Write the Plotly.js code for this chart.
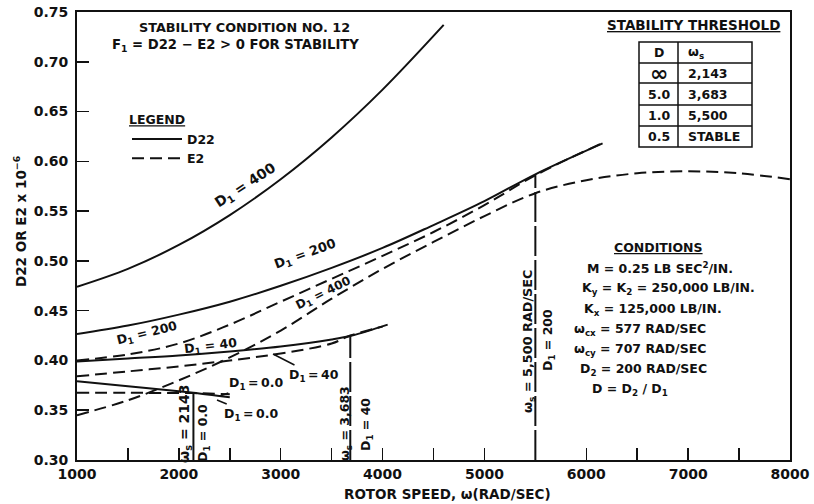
<!DOCTYPE html>
<html>
<head>
<meta charset="utf-8">
<script src="https://cdn.plot.ly/plotly-3.0.1.min.js"></script>
<style>html,body{margin:0;padding:0;background:#fff;}#chart{width:814px;height:504px;}</style>
</head>
<body>
<div id="chart"></div>
<script>
// ---- Data ----
// D22 (solid) curves
const speedD22_400 = [1000,1500,2000,2500,3000,3500,4000,4600];
const d22_400      = [0.474,0.492,0.516,0.546,0.582,0.624,0.672,0.737];
const speedD22_200 = [1000,1500,2000,2500,3000,3500,4000,4500,5000,5500,6160];
const d22_200      = [0.4265,0.435,0.446,0.459,0.475,0.493,0.513,0.536,0.560,0.587,0.618];
const speedD22_40  = [1000,1500,2000,2500,3000,3500,3700,4050];
const d22_40       = [0.399,0.402,0.405,0.409,0.414,0.421,0.425,0.436];
const speedD22_0   = [1000,1500,2000,2143,2500];
const d22_0        = [0.379,0.374,0.369,0.3675,0.363];
// E2 (dashed) curves
const speedE2_400 = [1000,1500,2000,2500,3000,3500,4000,4500,5000,5500,6000,6500,7000,7500,8000];
const e2_400      = [0.345,0.360,0.380,0.403,0.430,0.462,0.492,0.519,0.545,0.568,0.581,0.588,0.590,0.588,0.582];
const speedE2_200 = [1000,1500,2000,2500,3000,3500,4000,4500,5000,5500,6150];
const e2_200      = [0.400,0.406,0.417,0.436,0.459,0.482,0.505,0.529,0.556,0.586,0.618];
const speedE2_40  = [1000,1500,2000,2500,3000,3500,3683,4000];
const e2_40       = [0.384,0.389,0.394,0.400,0.407,0.417,0.425,0.434];
const speedE2_0   = [1000,1500,2000,2143,2500];
const e2_0        = [0.3675,0.3675,0.3672,0.3672,0.366];
// Stability thresholds
const thresholdSpeed = [2143,3683,5500];
const thresholdValue = [0.3675,0.425,0.587];
const thresholdDash  = ['solid','30px,4px','30px,4px'];
// Axis
const xRange = [1000,8000];
const yRange = [0.30,0.75];
const xTickVals = [1000,2000,3000,4000,5000,6000,7000,8000];
const yTickVals = [0.30,0.35,0.40,0.45,0.50,0.55,0.60,0.65,0.70,0.75];
// Table
const tableD  = ['∞','5.0','1.0','0.5'];
const tableWs = ['2,143','3,683','5,500','STABLE'];
const conditions = [
  'M = 0.25 LB SEC<sup>2</sup>/IN.',
  'K<sub>y</sub> = K<sub>2</sub> = 250,000 LB/IN.',
  'K<sub>x</sub> = 125,000 LB/IN.',
  'ω<sub>cx</sub> = 577 RAD/SEC',
  'ω<sub>cy</sub> = 707 RAD/SEC',
  'D<sub>2</sub> = 200 RAD/SEC',
  'D = D<sub>2</sub> / D<sub>1</sub>'
];

// ---- layout helpers (pixel -> paper) ----
const L = 77, R = 790, T = 12, B = 460;
const px = v => (v - L) / (R - L);
const py = v => (B - v) / (B - T);
const FONT = 'DejaVu Sans';
const INK = '#111';
const f = (size) => ({family:FONT, size, color:INK, weight:'bold'});
const TS = '\u2009';

const solid = (x, y, name, show) => ({x, y, type:'scatter', mode:'lines', name, showlegend: !!show,
  line:{color:INK, width:2, shape:'spline', smoothing:1}, hoverinfo:'skip'});
const dashed = (x, y, name, show) => ({x, y, type:'scatter', mode:'lines', name, showlegend: !!show,
  line:{color:INK, width:2, dash:'12px,6px', shape:'spline', smoothing:1}, hoverinfo:'skip'});

const traces = [
  solid(speedD22_400, d22_400, 'D22', true),
  dashed(speedE2_400, e2_400, 'E2', true),
  solid(speedD22_200, d22_200, 'D22'),
  solid(speedD22_40, d22_40, 'D22'),
  solid(speedD22_0, d22_0, 'D22'),
  dashed(speedE2_200, e2_200, 'E2'),
  dashed(speedE2_40, e2_40, 'E2'),
  dashed(speedE2_0, e2_0, 'E2')
];
thresholdSpeed.forEach((s, i) => {
  traces.push({x:[s, s], y:[yRange[0], thresholdValue[i]], type:'scatter', mode:'lines', showlegend:false,
    line:{color:INK, width:2, dash:thresholdDash[i]}, hoverinfo:'skip'});
});

const ann = [];
function txt(text, x, y, opts) {
  ann.push(Object.assign({text, x:px(x), y:py(y), xref:'paper', yref:'paper', showarrow:false,
    xanchor:'center', yanchor:'middle', font:f(12)}, opts || {}));
}
// axis titles
txt('ROTOR SPEED, ω(RAD/SEC)', 448, 494, {font:f(13.5)});
txt('D22 OR E2 x 10<sup>−6</sup>', 20, 221, {textangle:-90, font:f(13.5)});

txt('STABILITY CONDITION NO. 12', 244, 27, {font:f(12.8)});
txt('F<sub>1</sub> = D22 − E2 > 0 FOR STABILITY', 235, 45, {font:f(13.2)});
txt('<u>STABILITY THRESHOLD</u>', 693, 25, {font:f(13.5)});
txt('<u>CONDITIONS</u>', 658, 247, {font:f(12.5)});
const condX = [585,580,582,572,572,578,590];
const condY = [268,288,309,329,349,369,389];
conditions.forEach((c, i) => txt(c, condX[i], condY[i], {xanchor:'left', font:f(12.5)}));

// table
const tL = 639, tM = 678, tR = 752;
const rows = [42,63,83,105,126,147];
const shapes = [];
shapes.push({type:'rect', xref:'paper', yref:'paper', x0:px(tL), x1:px(tR), y0:py(rows[5]), y1:py(rows[0]), line:{color:INK, width:1.5}});
shapes.push({type:'line', xref:'paper', yref:'paper', x0:px(tM), x1:px(tM), y0:py(rows[5]), y1:py(rows[0]), line:{color:INK, width:1.5}});
for (let i = 1; i < 5; i++) shapes.push({type:'line', xref:'paper', yref:'paper', x0:px(tL), x1:px(tR), y0:py(rows[i]), y1:py(rows[i]), line:{color:INK, width:1.5}});
txt('D', (tL+tM)/2, (rows[0]+rows[1])/2, {font:f(12.5)});
txt('ω<sub>s</sub>', tM+8, (rows[0]+rows[1])/2, {xanchor:'left', font:f(12.5)});
tableD.forEach((d, i) => {
  const yc = (rows[i+1]+rows[i+2])/2;
  txt(d, (tL+tM)/2, yc, {font: d === '∞' ? f(22) : f(12.5)});
  txt(tableWs[i], tM+8, yc, {xanchor:'left', font:f(12.5)});
});

// curve labels
txt('D<sub>1</sub> = 400', 245, 186, {textangle:-33, font:f(14)});
txt('D<sub>1</sub> = 200', 305, 254, {textangle:-20, font:f(13)});
txt('D<sub>1</sub> = 400', 323, 294, {textangle:-26, font:f(12)});
txt('D<sub>1</sub> = 200', 147, 333, {textangle:-14, font:f(12.5)});
txt('D<sub>1</sub> = 40', 210, 346, {textangle:-7, font:f(12.5)});
// leader-line labels
function lead(text, tipX, tipY, tx, ty) {
  ann.push({text, x:px(tipX), y:py(tipY), xref:'paper', yref:'paper', showarrow:true, arrowhead:0, arrowwidth:1.5,
    arrowcolor:INK, ax:tx-tipX, ay:ty-tipY, font:f(12.5)});
}
lead('D<sub>1</sub>'+TS+'='+TS+'40', 273, 354, 314, 375);
lead('D<sub>1</sub>'+TS+'='+TS+'0.0', 220, 396, 256, 383);
lead('D<sub>1</sub>'+TS+'='+TS+'0.0', 217, 400, 251, 414);
// vertical threshold labels
txt('ω<sub>s</sub> = 2143', 185, 424, {textangle:-90, font:f(14)});
txt('D<sub>1</sub> = 0.0', 203, 433, {textangle:-90, font:f(12.5)});
txt('ω<sub>s</sub> = 3,683', 345, 424, {textangle:-90, font:f(12.5)});
txt('D<sub>1</sub> = 40', 366, 425, {textangle:-90, font:f(12.5)});
txt('ω<sub>s</sub> = 5,500 RAD/SEC', 528, 342, {textangle:-90, font:f(12.8)});
txt('D<sub>1</sub> = 200', 548, 340, {textangle:-90, font:f(12.5)});

const axisCommon = {showgrid:false, zeroline:false, showline:true, linecolor:INK, linewidth:2, mirror:true,
  ticks:'inside', tickcolor:INK, tickwidth:1.5, ticklen:12, tickfont:f(14)};

const layout = {
  width:814, height:504,
  margin:{l:L, r:814-R, t:T, b:504-B},
  paper_bgcolor:'#fff', plot_bgcolor:'#fff',
  font:{family:FONT, size:12, color:INK},
  xaxis:Object.assign({}, axisCommon, {range:xRange, tickvals:xTickVals, ticktext:xTickVals.map(String),
    minor:{dtick:500, tick0:1000, ticks:'inside', ticklen:12, tickcolor:INK, tickwidth:1.5}}),
  yaxis:Object.assign({}, axisCommon, {range:yRange, tickvals:yTickVals, ticktext:yTickVals.map(v => v.toFixed(2)),
    ticklabelstandoff:4}),
  showlegend:true,
  legend:{x:px(127), y:py(108), xanchor:'left', yanchor:'top', bgcolor:'rgba(0,0,0,0)', borderwidth:0,
    title:{text:'<u>LEGEND</u>', font:f(12.5)},
    font:f(12.5), tracegroupgap:0, itemwidth:50},
  annotations:ann,
  shapes:shapes
};
Plotly.newPlot('chart', traces, layout, {staticPlot:true, displayModeBar:false});
</script>
</body>
</html>
